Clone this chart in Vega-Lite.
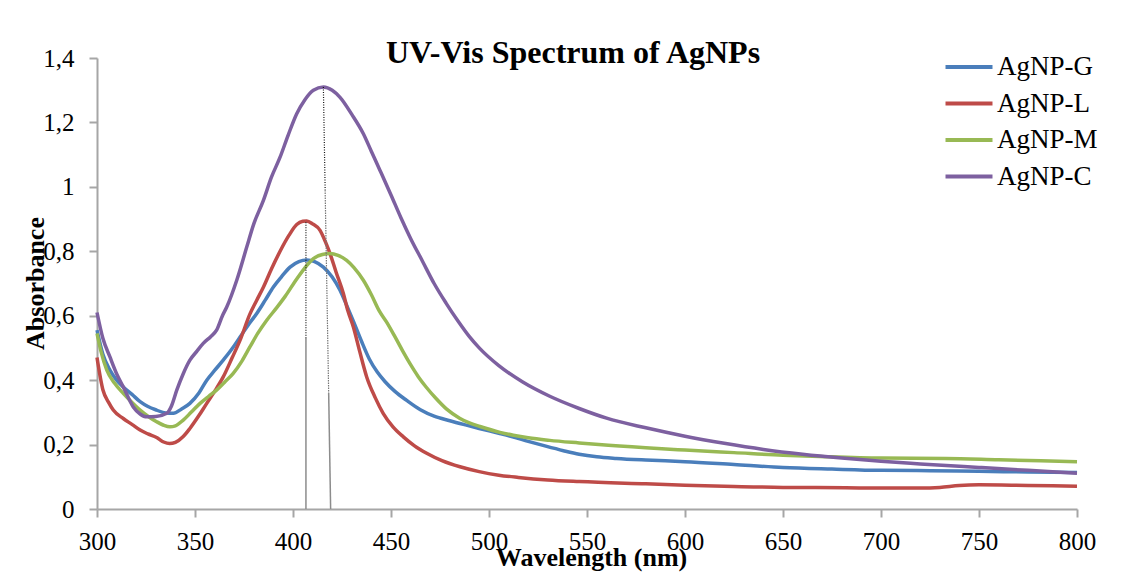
{
  "$schema": "https://vega.github.io/schema/vega-lite/v6.json",
  "width": 980,
  "height": 451,
  "autosize": "none",
  "padding": {"left": 97, "top": 58, "right": 46, "bottom": 72},
  "background": "white",
  "title": {
    "text": "UV-Vis Spectrum of AgNPs",
    "font": "Liberation Serif",
    "fontSize": 32,
    "fontWeight": "bold",
    "color": "black",
    "anchor": "middle",
    "frame": "group",
    "baseline": "alphabetic",
    "offset": -9,
    "dx": -14,
    "dy": 40
  },
  "datasets": {
    "spectra": [
      {"sample": "AgNP-G", "wavelength": 300, "absorbance": 0.555},
      {"sample": "AgNP-G", "wavelength": 303, "absorbance": 0.48},
      {"sample": "AgNP-G", "wavelength": 306.6, "absorbance": 0.431},
      {"sample": "AgNP-G", "wavelength": 310, "absorbance": 0.4},
      {"sample": "AgNP-G", "wavelength": 313.4, "absorbance": 0.379},
      {"sample": "AgNP-G", "wavelength": 318, "absorbance": 0.355},
      {"sample": "AgNP-G", "wavelength": 322, "absorbance": 0.333},
      {"sample": "AgNP-G", "wavelength": 326, "absorbance": 0.318},
      {"sample": "AgNP-G", "wavelength": 330.4, "absorbance": 0.307},
      {"sample": "AgNP-G", "wavelength": 335, "absorbance": 0.298},
      {"sample": "AgNP-G", "wavelength": 339, "absorbance": 0.297},
      {"sample": "AgNP-G", "wavelength": 343, "absorbance": 0.31},
      {"sample": "AgNP-G", "wavelength": 347.4, "absorbance": 0.328},
      {"sample": "AgNP-G", "wavelength": 352, "absorbance": 0.36},
      {"sample": "AgNP-G", "wavelength": 356, "absorbance": 0.4},
      {"sample": "AgNP-G", "wavelength": 360, "absorbance": 0.43},
      {"sample": "AgNP-G", "wavelength": 364.4, "absorbance": 0.462},
      {"sample": "AgNP-G", "wavelength": 369, "absorbance": 0.498},
      {"sample": "AgNP-G", "wavelength": 373, "absorbance": 0.534},
      {"sample": "AgNP-G", "wavelength": 377, "absorbance": 0.57},
      {"sample": "AgNP-G", "wavelength": 381.5, "absorbance": 0.607},
      {"sample": "AgNP-G", "wavelength": 386, "absorbance": 0.65},
      {"sample": "AgNP-G", "wavelength": 390, "absorbance": 0.689},
      {"sample": "AgNP-G", "wavelength": 394, "absorbance": 0.72},
      {"sample": "AgNP-G", "wavelength": 398.5, "absorbance": 0.751},
      {"sample": "AgNP-G", "wavelength": 403, "absorbance": 0.768},
      {"sample": "AgNP-G", "wavelength": 407, "absorbance": 0.773},
      {"sample": "AgNP-G", "wavelength": 411, "absorbance": 0.768},
      {"sample": "AgNP-G", "wavelength": 415.5, "absorbance": 0.751},
      {"sample": "AgNP-G", "wavelength": 420, "absorbance": 0.72},
      {"sample": "AgNP-G", "wavelength": 424, "absorbance": 0.679},
      {"sample": "AgNP-G", "wavelength": 427.4, "absorbance": 0.632},
      {"sample": "AgNP-G", "wavelength": 431, "absorbance": 0.58},
      {"sample": "AgNP-G", "wavelength": 435, "absorbance": 0.52},
      {"sample": "AgNP-G", "wavelength": 439, "absorbance": 0.465},
      {"sample": "AgNP-G", "wavelength": 443, "absorbance": 0.425},
      {"sample": "AgNP-G", "wavelength": 447, "absorbance": 0.395},
      {"sample": "AgNP-G", "wavelength": 452, "absorbance": 0.365},
      {"sample": "AgNP-G", "wavelength": 458, "absorbance": 0.337},
      {"sample": "AgNP-G", "wavelength": 465, "absorbance": 0.308},
      {"sample": "AgNP-G", "wavelength": 472, "absorbance": 0.288},
      {"sample": "AgNP-G", "wavelength": 480, "absorbance": 0.274},
      {"sample": "AgNP-G", "wavelength": 488, "absorbance": 0.261},
      {"sample": "AgNP-G", "wavelength": 495, "absorbance": 0.25},
      {"sample": "AgNP-G", "wavelength": 505, "absorbance": 0.235},
      {"sample": "AgNP-G", "wavelength": 512, "absorbance": 0.224},
      {"sample": "AgNP-G", "wavelength": 520, "absorbance": 0.21},
      {"sample": "AgNP-G", "wavelength": 529, "absorbance": 0.195},
      {"sample": "AgNP-G", "wavelength": 538, "absorbance": 0.181},
      {"sample": "AgNP-G", "wavelength": 546, "absorbance": 0.17},
      {"sample": "AgNP-G", "wavelength": 555, "absorbance": 0.162},
      {"sample": "AgNP-G", "wavelength": 565, "absorbance": 0.157},
      {"sample": "AgNP-G", "wavelength": 580, "absorbance": 0.152},
      {"sample": "AgNP-G", "wavelength": 600, "absorbance": 0.147},
      {"sample": "AgNP-G", "wavelength": 625, "absorbance": 0.138},
      {"sample": "AgNP-G", "wavelength": 650, "absorbance": 0.129},
      {"sample": "AgNP-G", "wavelength": 675, "absorbance": 0.124},
      {"sample": "AgNP-G", "wavelength": 700, "absorbance": 0.12},
      {"sample": "AgNP-G", "wavelength": 725, "absorbance": 0.119},
      {"sample": "AgNP-G", "wavelength": 750, "absorbance": 0.117},
      {"sample": "AgNP-G", "wavelength": 775, "absorbance": 0.115},
      {"sample": "AgNP-G", "wavelength": 800, "absorbance": 0.113},

      {"sample": "AgNP-L", "wavelength": 300, "absorbance": 0.47},
      {"sample": "AgNP-L", "wavelength": 303, "absorbance": 0.37},
      {"sample": "AgNP-L", "wavelength": 306, "absorbance": 0.33},
      {"sample": "AgNP-L", "wavelength": 308.3, "absorbance": 0.307},
      {"sample": "AgNP-L", "wavelength": 313.4, "absorbance": 0.281},
      {"sample": "AgNP-L", "wavelength": 318, "absorbance": 0.262},
      {"sample": "AgNP-L", "wavelength": 322, "absorbance": 0.245},
      {"sample": "AgNP-L", "wavelength": 326, "absorbance": 0.233},
      {"sample": "AgNP-L", "wavelength": 330.4, "absorbance": 0.222},
      {"sample": "AgNP-L", "wavelength": 334, "absorbance": 0.208},
      {"sample": "AgNP-L", "wavelength": 337, "absorbance": 0.203},
      {"sample": "AgNP-L", "wavelength": 340, "absorbance": 0.207},
      {"sample": "AgNP-L", "wavelength": 344, "absorbance": 0.225},
      {"sample": "AgNP-L", "wavelength": 347.4, "absorbance": 0.25},
      {"sample": "AgNP-L", "wavelength": 352, "absorbance": 0.29},
      {"sample": "AgNP-L", "wavelength": 356, "absorbance": 0.328},
      {"sample": "AgNP-L", "wavelength": 360, "absorbance": 0.365},
      {"sample": "AgNP-L", "wavelength": 364.4, "absorbance": 0.41},
      {"sample": "AgNP-L", "wavelength": 369, "absorbance": 0.47},
      {"sample": "AgNP-L", "wavelength": 373, "absorbance": 0.524},
      {"sample": "AgNP-L", "wavelength": 378, "absorbance": 0.605},
      {"sample": "AgNP-L", "wavelength": 381.5, "absorbance": 0.648},
      {"sample": "AgNP-L", "wavelength": 385, "absorbance": 0.69},
      {"sample": "AgNP-L", "wavelength": 389, "absorbance": 0.745},
      {"sample": "AgNP-L", "wavelength": 393.4, "absorbance": 0.8},
      {"sample": "AgNP-L", "wavelength": 398, "absorbance": 0.85},
      {"sample": "AgNP-L", "wavelength": 401.9, "absorbance": 0.883},
      {"sample": "AgNP-L", "wavelength": 405, "absorbance": 0.893},
      {"sample": "AgNP-L", "wavelength": 407, "absorbance": 0.894},
      {"sample": "AgNP-L", "wavelength": 410, "absorbance": 0.885},
      {"sample": "AgNP-L", "wavelength": 413.8, "absorbance": 0.865},
      {"sample": "AgNP-L", "wavelength": 416.5, "absorbance": 0.83},
      {"sample": "AgNP-L", "wavelength": 418.9, "absorbance": 0.793},
      {"sample": "AgNP-L", "wavelength": 422, "absorbance": 0.735},
      {"sample": "AgNP-L", "wavelength": 425.7, "absorbance": 0.669},
      {"sample": "AgNP-L", "wavelength": 428, "absorbance": 0.615},
      {"sample": "AgNP-L", "wavelength": 430.8, "absorbance": 0.565},
      {"sample": "AgNP-L", "wavelength": 434, "absorbance": 0.49},
      {"sample": "AgNP-L", "wavelength": 437.6, "absorbance": 0.41},
      {"sample": "AgNP-L", "wavelength": 442, "absorbance": 0.345},
      {"sample": "AgNP-L", "wavelength": 446, "absorbance": 0.297},
      {"sample": "AgNP-L", "wavelength": 451, "absorbance": 0.255},
      {"sample": "AgNP-L", "wavelength": 456.3, "absorbance": 0.224},
      {"sample": "AgNP-L", "wavelength": 462, "absorbance": 0.196},
      {"sample": "AgNP-L", "wavelength": 468.2, "absorbance": 0.173},
      {"sample": "AgNP-L", "wavelength": 476, "absorbance": 0.15},
      {"sample": "AgNP-L", "wavelength": 485.2, "absorbance": 0.131},
      {"sample": "AgNP-L", "wavelength": 495, "absorbance": 0.116},
      {"sample": "AgNP-L", "wavelength": 505, "absorbance": 0.105},
      {"sample": "AgNP-L", "wavelength": 515, "absorbance": 0.098},
      {"sample": "AgNP-L", "wavelength": 530, "absorbance": 0.09},
      {"sample": "AgNP-L", "wavelength": 546, "absorbance": 0.085},
      {"sample": "AgNP-L", "wavelength": 580, "absorbance": 0.078},
      {"sample": "AgNP-L", "wavelength": 600, "absorbance": 0.074},
      {"sample": "AgNP-L", "wavelength": 625, "absorbance": 0.07},
      {"sample": "AgNP-L", "wavelength": 650, "absorbance": 0.067},
      {"sample": "AgNP-L", "wavelength": 682, "absorbance": 0.066},
      {"sample": "AgNP-L", "wavelength": 700, "absorbance": 0.065},
      {"sample": "AgNP-L", "wavelength": 720, "absorbance": 0.065},
      {"sample": "AgNP-L", "wavelength": 730, "absorbance": 0.067},
      {"sample": "AgNP-L", "wavelength": 740, "absorbance": 0.073},
      {"sample": "AgNP-L", "wavelength": 750, "absorbance": 0.075},
      {"sample": "AgNP-L", "wavelength": 775, "absorbance": 0.073},
      {"sample": "AgNP-L", "wavelength": 800, "absorbance": 0.071},

      {"sample": "AgNP-M", "wavelength": 300, "absorbance": 0.545},
      {"sample": "AgNP-M", "wavelength": 302, "absorbance": 0.49},
      {"sample": "AgNP-M", "wavelength": 305, "absorbance": 0.431},
      {"sample": "AgNP-M", "wavelength": 309, "absorbance": 0.39},
      {"sample": "AgNP-M", "wavelength": 313.4, "absorbance": 0.359},
      {"sample": "AgNP-M", "wavelength": 318, "absorbance": 0.33},
      {"sample": "AgNP-M", "wavelength": 322, "absorbance": 0.307},
      {"sample": "AgNP-M", "wavelength": 326, "absorbance": 0.288},
      {"sample": "AgNP-M", "wavelength": 330.4, "absorbance": 0.271},
      {"sample": "AgNP-M", "wavelength": 334, "absorbance": 0.26},
      {"sample": "AgNP-M", "wavelength": 337.2, "absorbance": 0.255},
      {"sample": "AgNP-M", "wavelength": 340, "absorbance": 0.258},
      {"sample": "AgNP-M", "wavelength": 344, "absorbance": 0.276},
      {"sample": "AgNP-M", "wavelength": 348, "absorbance": 0.3},
      {"sample": "AgNP-M", "wavelength": 352.6, "absorbance": 0.328},
      {"sample": "AgNP-M", "wavelength": 357, "absorbance": 0.35},
      {"sample": "AgNP-M", "wavelength": 361, "absorbance": 0.369},
      {"sample": "AgNP-M", "wavelength": 365, "absorbance": 0.393},
      {"sample": "AgNP-M", "wavelength": 369.5, "absorbance": 0.421},
      {"sample": "AgNP-M", "wavelength": 374, "absorbance": 0.46},
      {"sample": "AgNP-M", "wavelength": 378, "absorbance": 0.503},
      {"sample": "AgNP-M", "wavelength": 382, "absorbance": 0.545},
      {"sample": "AgNP-M", "wavelength": 386.6, "absorbance": 0.586},
      {"sample": "AgNP-M", "wavelength": 391.7, "absorbance": 0.625},
      {"sample": "AgNP-M", "wavelength": 396, "absorbance": 0.66},
      {"sample": "AgNP-M", "wavelength": 402, "absorbance": 0.715},
      {"sample": "AgNP-M", "wavelength": 406, "absorbance": 0.748},
      {"sample": "AgNP-M", "wavelength": 410.4, "absorbance": 0.777},
      {"sample": "AgNP-M", "wavelength": 415, "absorbance": 0.79},
      {"sample": "AgNP-M", "wavelength": 418.9, "absorbance": 0.793},
      {"sample": "AgNP-M", "wavelength": 423, "absorbance": 0.787},
      {"sample": "AgNP-M", "wavelength": 427.4, "absorbance": 0.772},
      {"sample": "AgNP-M", "wavelength": 431, "absorbance": 0.75},
      {"sample": "AgNP-M", "wavelength": 435.9, "absorbance": 0.71},
      {"sample": "AgNP-M", "wavelength": 440, "absorbance": 0.665},
      {"sample": "AgNP-M", "wavelength": 444, "absorbance": 0.615},
      {"sample": "AgNP-M", "wavelength": 448, "absorbance": 0.578},
      {"sample": "AgNP-M", "wavelength": 452, "absorbance": 0.535},
      {"sample": "AgNP-M", "wavelength": 456, "absorbance": 0.49},
      {"sample": "AgNP-M", "wavelength": 460, "absorbance": 0.448},
      {"sample": "AgNP-M", "wavelength": 464, "absorbance": 0.41},
      {"sample": "AgNP-M", "wavelength": 468, "absorbance": 0.378},
      {"sample": "AgNP-M", "wavelength": 473, "absorbance": 0.343},
      {"sample": "AgNP-M", "wavelength": 478.4, "absorbance": 0.31},
      {"sample": "AgNP-M", "wavelength": 485, "absorbance": 0.282},
      {"sample": "AgNP-M", "wavelength": 490, "absorbance": 0.267},
      {"sample": "AgNP-M", "wavelength": 495.4, "absorbance": 0.256},
      {"sample": "AgNP-M", "wavelength": 505.6, "absorbance": 0.238},
      {"sample": "AgNP-M", "wavelength": 512.4, "absorbance": 0.229},
      {"sample": "AgNP-M", "wavelength": 520, "absorbance": 0.221},
      {"sample": "AgNP-M", "wavelength": 531, "absorbance": 0.213},
      {"sample": "AgNP-M", "wavelength": 546, "absorbance": 0.205},
      {"sample": "AgNP-M", "wavelength": 556, "absorbance": 0.2},
      {"sample": "AgNP-M", "wavelength": 580, "absorbance": 0.19},
      {"sample": "AgNP-M", "wavelength": 600, "absorbance": 0.183},
      {"sample": "AgNP-M", "wavelength": 625, "absorbance": 0.175},
      {"sample": "AgNP-M", "wavelength": 650, "absorbance": 0.167},
      {"sample": "AgNP-M", "wavelength": 665, "absorbance": 0.164},
      {"sample": "AgNP-M", "wavelength": 700, "absorbance": 0.158},
      {"sample": "AgNP-M", "wavelength": 733, "absorbance": 0.157},
      {"sample": "AgNP-M", "wavelength": 760, "absorbance": 0.153},
      {"sample": "AgNP-M", "wavelength": 800, "absorbance": 0.147},

      {"sample": "AgNP-C", "wavelength": 300, "absorbance": 0.61},
      {"sample": "AgNP-C", "wavelength": 303, "absorbance": 0.53},
      {"sample": "AgNP-C", "wavelength": 306.6, "absorbance": 0.472},
      {"sample": "AgNP-C", "wavelength": 310, "absorbance": 0.42},
      {"sample": "AgNP-C", "wavelength": 313.4, "absorbance": 0.379},
      {"sample": "AgNP-C", "wavelength": 318.5, "absorbance": 0.317},
      {"sample": "AgNP-C", "wavelength": 322, "absorbance": 0.295},
      {"sample": "AgNP-C", "wavelength": 325.4, "absorbance": 0.286},
      {"sample": "AgNP-C", "wavelength": 330, "absorbance": 0.287},
      {"sample": "AgNP-C", "wavelength": 335.6, "absorbance": 0.297},
      {"sample": "AgNP-C", "wavelength": 338, "absorbance": 0.32},
      {"sample": "AgNP-C", "wavelength": 340.7, "absorbance": 0.369},
      {"sample": "AgNP-C", "wavelength": 344, "absorbance": 0.42},
      {"sample": "AgNP-C", "wavelength": 347.4, "absorbance": 0.462},
      {"sample": "AgNP-C", "wavelength": 351, "absorbance": 0.49},
      {"sample": "AgNP-C", "wavelength": 354.2, "absorbance": 0.514},
      {"sample": "AgNP-C", "wavelength": 358, "absorbance": 0.535},
      {"sample": "AgNP-C", "wavelength": 361, "absorbance": 0.555},
      {"sample": "AgNP-C", "wavelength": 364, "absorbance": 0.6},
      {"sample": "AgNP-C", "wavelength": 366.2, "absorbance": 0.627},
      {"sample": "AgNP-C", "wavelength": 371.3, "absorbance": 0.71},
      {"sample": "AgNP-C", "wavelength": 376.4, "absorbance": 0.813},
      {"sample": "AgNP-C", "wavelength": 380, "absorbance": 0.885},
      {"sample": "AgNP-C", "wavelength": 384.9, "absorbance": 0.958},
      {"sample": "AgNP-C", "wavelength": 389, "absorbance": 1.03},
      {"sample": "AgNP-C", "wavelength": 393.4, "absorbance": 1.092},
      {"sample": "AgNP-C", "wavelength": 397.5, "absorbance": 1.16},
      {"sample": "AgNP-C", "wavelength": 401.9, "absorbance": 1.227},
      {"sample": "AgNP-C", "wavelength": 406, "absorbance": 1.27},
      {"sample": "AgNP-C", "wavelength": 410.4, "absorbance": 1.3},
      {"sample": "AgNP-C", "wavelength": 415.5, "absorbance": 1.31},
      {"sample": "AgNP-C", "wavelength": 420, "absorbance": 1.3},
      {"sample": "AgNP-C", "wavelength": 424, "absorbance": 1.278},
      {"sample": "AgNP-C", "wavelength": 430, "absorbance": 1.225},
      {"sample": "AgNP-C", "wavelength": 435.9, "absorbance": 1.165},
      {"sample": "AgNP-C", "wavelength": 440, "absorbance": 1.11},
      {"sample": "AgNP-C", "wavelength": 444.4, "absorbance": 1.051},
      {"sample": "AgNP-C", "wavelength": 450, "absorbance": 0.975},
      {"sample": "AgNP-C", "wavelength": 455, "absorbance": 0.905},
      {"sample": "AgNP-C", "wavelength": 460, "absorbance": 0.84},
      {"sample": "AgNP-C", "wavelength": 466, "absorbance": 0.77},
      {"sample": "AgNP-C", "wavelength": 472, "absorbance": 0.7},
      {"sample": "AgNP-C", "wavelength": 478, "absorbance": 0.64},
      {"sample": "AgNP-C", "wavelength": 484, "absorbance": 0.585},
      {"sample": "AgNP-C", "wavelength": 490, "absorbance": 0.535},
      {"sample": "AgNP-C", "wavelength": 495, "absorbance": 0.5},
      {"sample": "AgNP-C", "wavelength": 505, "absorbance": 0.445},
      {"sample": "AgNP-C", "wavelength": 517, "absorbance": 0.395},
      {"sample": "AgNP-C", "wavelength": 531, "absorbance": 0.35},
      {"sample": "AgNP-C", "wavelength": 546, "absorbance": 0.312},
      {"sample": "AgNP-C", "wavelength": 560, "absorbance": 0.282},
      {"sample": "AgNP-C", "wavelength": 580, "absorbance": 0.252},
      {"sample": "AgNP-C", "wavelength": 600, "absorbance": 0.226},
      {"sample": "AgNP-C", "wavelength": 620, "absorbance": 0.204},
      {"sample": "AgNP-C", "wavelength": 640, "absorbance": 0.185},
      {"sample": "AgNP-C", "wavelength": 660, "absorbance": 0.17},
      {"sample": "AgNP-C", "wavelength": 680, "absorbance": 0.158},
      {"sample": "AgNP-C", "wavelength": 700, "absorbance": 0.148},
      {"sample": "AgNP-C", "wavelength": 720, "absorbance": 0.14},
      {"sample": "AgNP-C", "wavelength": 750, "absorbance": 0.129},
      {"sample": "AgNP-C", "wavelength": 775, "absorbance": 0.12},
      {"sample": "AgNP-C", "wavelength": 800, "absorbance": 0.111}
    ],
    "dropSolid": [
      {"x": 406.6, "y": 0, "x2": 406.6, "y2": 0.53},
      {"x": 418.2, "y": 0.36, "x2": 419.2, "y2": 0}
    ],
    "dropDotted": [
      {"x": 406.6, "y": 0.53, "x2": 406.6, "y2": 0.894},
      {"x": 415.5, "y": 1.31, "x2": 416.4, "y2": 0.99}
    ],
    "dropGrey": [
      {"x": 416.4, "y": 0.99, "x2": 418.2, "y2": 0.36}
    ]
  },
  "layer": [
    {
      "data": {"name": "spectra"},
      "mark": {"type": "line", "strokeWidth": 3.5, "interpolate": "monotone"},
      "encoding": {
        "x": {
          "field": "wavelength",
          "type": "quantitative",
          "scale": {"domain": [300, 800], "nice": false},
          "axis": {
            "values": [300, 350, 400, 450, 500, 550, 600, 650, 700, 750, 800],
            "labelFlush": false,
            "title": "Wavelength (nm)",
            "titleX": 494,
            "titleY": 56,
            "titleBaseline": "alphabetic",
            "titleAlign": "center",
            "labelPadding": 12
          }
        },
        "y": {
          "field": "absorbance",
          "type": "quantitative",
          "scale": {"domain": [0, 1.4], "nice": false},
          "axis": {
            "values": [0, 0.2, 0.4, 0.6, 0.8, 1, 1.2, 1.4],
            "labelExpr": "replace(format(datum.value, '~g'), '.', ',')",
            "title": "Absorbance",
            "titleX": -62,
            "titleY": 225,
            "titleAngle": -90,
            "titleBaseline": "middle",
            "titleAlign": "center",
            "labelPadding": 15
          }
        },
        "color": {
          "field": "sample",
          "type": "nominal",
          "sort": null,
          "scale": {
            "domain": ["AgNP-G", "AgNP-L", "AgNP-M", "AgNP-C"],
            "range": ["#4a7ebb", "#be4b48", "#98b954", "#7d60a0"]
          },
          "legend": {
            "title": null,
            "orient": "none",
            "legendX": 858,
            "legendY": -5,
            "symbolType": "M-2,0H2",
            "symbolSize": 552,
            "symbolStrokeWidth": 4,
            "labelFont": "Liberation Serif",
            "labelFontSize": 27,
            "labelColor": "black",
            "labelOffset": 14,
            "rowPadding": 9.5,
            "padding": 0
          }
        }
      }
    },
    {
      "data": {"name": "dropSolid"},
      "mark": {"type": "rule", "color": "#8c8c8c", "strokeWidth": 1.5},
      "encoding": {
        "x": {"field": "x", "type": "quantitative"},
        "y": {"field": "y", "type": "quantitative"},
        "x2": {"field": "x2"},
        "y2": {"field": "y2"}
      }
    },
    {
      "data": {"name": "dropDotted"},
      "mark": {"type": "rule", "color": "#111111", "strokeWidth": 1.2, "strokeDash": [1, 1.5]},
      "encoding": {
        "x": {"field": "x", "type": "quantitative"},
        "y": {"field": "y", "type": "quantitative"},
        "x2": {"field": "x2"},
        "y2": {"field": "y2"}
      }
    },
    {
      "data": {"name": "dropGrey"},
      "mark": {"type": "rule", "color": "#777777", "strokeWidth": 1.2, "strokeDash": [1.5, 1]},
      "encoding": {
        "x": {"field": "x", "type": "quantitative"},
        "y": {"field": "y", "type": "quantitative"},
        "x2": {"field": "x2"},
        "y2": {"field": "y2"}
      }
    }
  ],
  "config": {
    "view": {"stroke": null},
    "axis": {
      "grid": false,
      "domainColor": "#a6a6a6",
      "domainWidth": 2,
      "tickColor": "#a6a6a6",
      "tickWidth": 2,
      "tickSize": 8,
      "labelFont": "Liberation Serif",
      "labelFontSize": 25,
      "labelColor": "black",
      "titleFont": "Liberation Serif",
      "titleFontSize": 26,
      "titleFontWeight": "bold",
      "titleColor": "black"
    }
  }
}
